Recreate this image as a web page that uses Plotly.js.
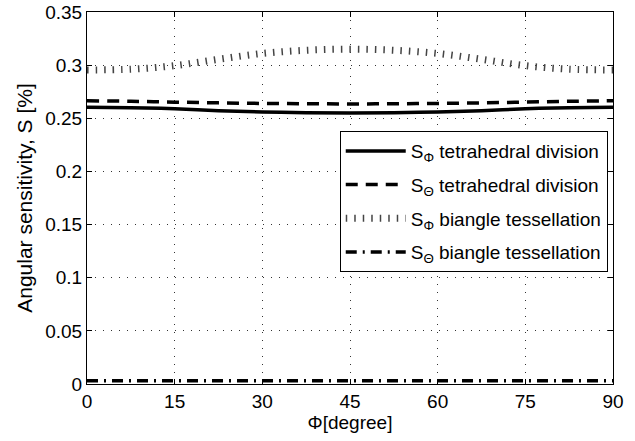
<!DOCTYPE html>
<html>
<head>
<meta charset="utf-8">
<script src="https://cdn.plot.ly/plotly-3.0.1.min.js"></script>
<style>html,body{margin:0;padding:0;background:#fff;}#chart{width:635px;height:441px;}</style>
</head>
<body>
<div id="chart"></div>
<script>
// Φ in degrees
const phi = [0, 7.5, 15, 22.5, 30, 37.5, 45, 52.5, 60, 67.5, 75, 82.5, 90];
// S_Φ tetrahedral division
const sPhiTetra = [0.2605, 0.2600, 0.2590, 0.2572, 0.2560, 0.2553, 0.2550, 0.2553, 0.2560, 0.2572, 0.2590, 0.2600, 0.2605];
// S_Θ tetrahedral division
const sThetaTetra = [0.2665, 0.2660, 0.2652, 0.2645, 0.2640, 0.2637, 0.2635, 0.2637, 0.2640, 0.2645, 0.2652, 0.2660, 0.2665];
// S_Φ biangle tessellation
const sPhiBiangle = [0.2955, 0.2962, 0.2995, 0.3055, 0.3110, 0.3140, 0.3150, 0.3140, 0.3110, 0.3055, 0.2995, 0.2962, 0.2955];
// S_Θ biangle tessellation
const sThetaBiangle = [0.003, 0.003, 0.003, 0.003, 0.003, 0.003, 0.003, 0.003, 0.003, 0.003, 0.003, 0.003, 0.003];

const names = [
  'S<sub>Φ</sub> tetrahedral division',
  'S<sub>Θ</sub> tetrahedral division',
  'S<sub>Φ</sub> biangle tessellation',
  'S<sub>Θ</sub> biangle tessellation'
];
const xTicks = [0, 15, 30, 45, 60, 75, 90];
const yTicks = [0, 0.05, 0.1, 0.15, 0.2, 0.25, 0.3, 0.35];
const yTickText = ['0', '0.05', '0.1', '0.15', '0.2', '0.25', '0.3', '0.35'];

const traces = [
  {x: phi, y: sPhiTetra, name: names[0], legendgroup: 'a', mode: 'lines', line: {color: '#000', width: 3.5, shape: 'spline'}},
  {x: phi, y: sThetaTetra, name: names[1], legendgroup: 'b', mode: 'lines', line: {color: '#000', width: 3.5, dash: '12px,8px', shape: 'spline'}},
  {x: phi, y: sPhiBiangle, name: names[2], legendgroup: 'c', mode: 'lines', line: {color: '#444', width: 7, dash: '1.5px,7px', shape: 'spline'}},
  {x: phi, y: sThetaBiangle, name: names[3], legendgroup: 'd', mode: 'lines', line: {color: '#000', width: 3.5, dash: '11px,6px,2px,6px'}}
];

const family = 'Liberation Sans, Arial, sans-serif';
const font = {family: family, size: 19, color: '#000'};

const axisCommon = {
  showline: true, mirror: 'ticks', linecolor: '#000', linewidth: 1,
  ticks: 'inside', ticklen: 5, tickcolor: '#000', tickwidth: 1,
  showgrid: true, gridcolor: '#333', gridwidth: 1, griddash: '1px,7px',
  zeroline: false, tickfont: font
};

const layout = {
  width: 635, height: 441,
  margin: {l: 87, r: 22, t: 12, b: 57},
  paper_bgcolor: '#fff', plot_bgcolor: '#fff',
  font: font,
  showlegend: true,
  xaxis: Object.assign({}, axisCommon, {
    range: [0, 90], tickmode: 'array', tickvals: xTicks, ticktext: xTicks.map(String),
    title: {text: 'Φ[degree]', font: {family: family, size: 19, color: '#000'}, standoff: 3}
  }),
  yaxis: Object.assign({}, axisCommon, {
    range: [0, 0.35], tickmode: 'array', tickvals: yTicks, ticktext: yTickText,
    title: {text: 'Angular sensitivity, S [%]', font: {family: family, size: 21, color: '#000'}, standoff: 6}
  }),
  legend: {
    x: 0.99, xanchor: 'right', y: 0.68, yanchor: 'top',
    bgcolor: '#fff', bordercolor: '#000', borderwidth: 1,
    font: font, tracegroupgap: 6, itemwidth: 60
  }
};

Plotly.newPlot('chart', traces, layout, {displayModeBar: false, staticPlot: true});
</script>
</body>
</html>
